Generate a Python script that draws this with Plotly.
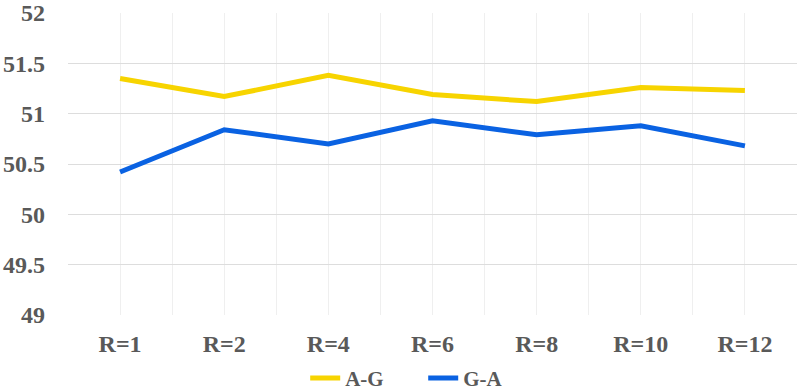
import plotly.graph_objects as go

categories = ["R=1", "R=2", "R=4", "R=6", "R=8", "R=10", "R=12"]
ag_values = [51.35, 51.17, 51.38, 51.19, 51.12, 51.26, 51.23]
ga_values = [50.42, 50.84, 50.70, 50.93, 50.79, 50.88, 50.68]
y_ticks = [49, 49.5, 50, 50.5, 51, 51.5, 52]

xpos = list(range(len(categories)))
font_family = "Liberation Serif, Times New Roman, serif"
gray = "#595959"

fig = go.Figure()
fig.add_trace(go.Scatter(x=xpos, y=ag_values, mode="lines", name="<b>A-G</b>",
                         line=dict(color="#F7D400", width=5)))
fig.add_trace(go.Scatter(x=xpos, y=ga_values, mode="lines", name="<b>G-A</b>",
                         line=dict(color="#0A62E2", width=5)))

fig.update_layout(
    width=797, height=392,
    margin=dict(l=68, r=0, t=13, b=77),
    paper_bgcolor="white", plot_bgcolor="white",
    showlegend=True,
    legend=dict(orientation="h", xref="container", x=0.531, xanchor="center",
                yref="container", y=0.035, yanchor="middle",
                font=dict(family=font_family, size=21, color=gray),
                itemwidth=30, tracegroupgap=0, entrywidth=73, entrywidthmode="pixels"),
    font=dict(family=font_family, color=gray),
)
fig.update_xaxes(
    range=[-0.5, 6.5], tickmode="array", tickvals=xpos,
    ticktext=[f"<b>{c}</b>" for c in categories],
    tickfont=dict(family=font_family, size=24, color=gray),
    showgrid=True, gridcolor="#EFEFEF", gridwidth=1,
    minor=dict(showgrid=True, tick0=-0.5, dtick=1, gridcolor="#EFEFEF", gridwidth=1),
    ticks="", ticklabelstandoff=12, automargin=False,
    zeroline=False, showline=False, fixedrange=True,
)
fig.update_yaxes(
    range=[49, 52], tickmode="array", tickvals=y_ticks,
    ticktext=[f"<b>{v:g}</b>" for v in y_ticks],
    tickfont=dict(family=font_family, size=24, color=gray),
    showgrid=True, gridcolor="#DDDDDD", gridwidth=1,
    ticks="", ticklabelstandoff=22, automargin=False,
    zeroline=False, showline=False, fixedrange=True,
)

fig.write_html("out.html", config={"displayModeBar": False},
               post_script="document.body.style.margin='0';document.body.style.overflow='hidden';")
